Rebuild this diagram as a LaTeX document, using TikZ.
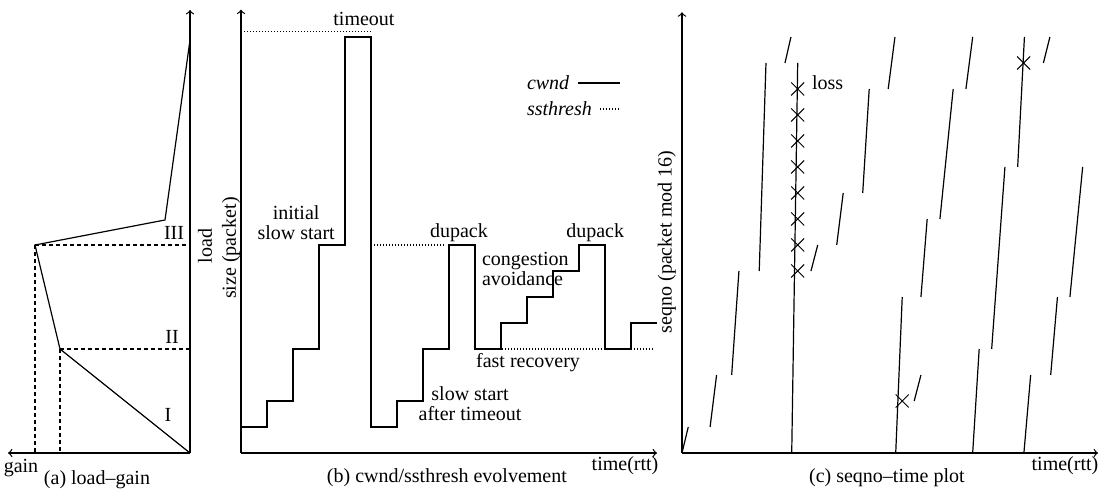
\documentclass[tikz,border=0pt]{standalone}
\usepackage{fontspec}
\setmainfont{Liberation Serif}
\usetikzlibrary{shapes.misc,positioning}

\begin{document}
\begin{tikzpicture}[x=0.5pt,y=-0.5pt,inner sep=0pt,outer sep=0pt,line width=0.6pt,
font=\fontsize{10}{10}\selectfont,
guide/.style={dash pattern=on 2pt off 1.5pt},
thresh/.style={dash pattern=on 0.5pt off 1pt},
lossx/.style={draw,cross out,minimum size=6.5pt,line width=0.5pt}]
\useasboundingbox (0,0) rectangle (1102,490);

% (a) load-gain
\coordinate (o) at (190,453);
\coordinate (loadtip) at (190,10);
\coordinate (gaintip) at (8,453);
\coordinate (p2) at (60,349);
\coordinate (p3) at (35,245);
\coordinate (knee) at (165,220);
\coordinate (ptop) at (190,40);
\draw[->] (o) -- (loadtip);
\draw[->] (o) -- (gaintip);
\draw (o) -- (p2) -- (p3) -- (knee) -- (ptop);
\draw[guide] (p2) -- (p2 -| o) (p3) -- (p3 -| o) (p3) -- (p3 |- o) (p2) -- (p2 |- o);
\node (lI) at (168,415) {I};
\node (lII) at (172,337) {II};
\node (lIII) at (174,233) {III};
\node[rotate=90] (load) at (205,246) {load};
\node (gain) at (21,468) {gain};
\node (capa) at (97,480) {(a) load--gain};

% (b) cwnd/ssthresh
\begin{scope}[shift={(241,453)},x=13pt,y=13pt]
\draw[->] (0,0) -- (16,0);
\draw[->] (0,0) -- (0,17.05);
\draw (0,1) -| (1,2) -| (2,4) -| (3,8) -| (4,16) -| (5,1) -| (6,2) -| (7,4) -| (8,8)
  -| (9,4) -| (10,5) -| (11,6) -| (12,7) -| (13,8) -| (14,4) -| (15,5) -- (16,5);
\draw[thresh] (0,16.2) -- (5,16.2) (5,8) -- (7.8,8) (9,4) -- (15.85,4);
\node[anchor=west,font=\fontsize{10}{10}\selectfont\itshape] (cw) at (11,14.23) {cwnd};
\node[anchor=west,font=\fontsize{10}{10}\selectfont\itshape] (ss) at (11,13.23) {ssthresh};
\draw (12.96,14.23) -- (14.58,14.23);
\draw[thresh] (13.81,13.23) -- (14.58,13.23);
\node (tmo) at (4.73,16.69) {timeout};
\node[align=center] (init) at (2.12,8.85) {initial\\slow start};
\node (dup1) at (8.38,8.46) {dupack};
\node (dup2) at (13.62,8.46) {dupack};
\node[align=left,anchor=west] (cong) at (9.27,7.06) {congestion\\avoidance};
\node (fr) at (11.04,3.46) {fast recovery};
\node[align=center] (ssat) at (8.81,1.88) {slow start\\after timeout};
\node (tb) at (14.77,-0.5) {time(rtt)};
\node[rotate=90] (size) at (-0.38,7.88) {size (packet)};
\node (capb) at (7.92,-0.96) {(b) cwnd/ssthresh evolvement};
\end{scope}

% (c) seqno-time
\begin{scope}[shift={(682,453)},x=13pt,y=13pt]
\draw[->] (0,0) -- (16,0);
\draw[->] (0,0) -- (0,16.95);
\draw (0,0) -- (0.24,1) (1.08,1) -- (1.33,3) (1.91,3) -- (2.19,7) (2.97,7) -- (3.23,15)
  (3.96,15) -- (4.19,16) (4.22,0) -- (4.45,15) (4.96,7) -- (5.22,8) (5.95,8) -- (6.2,10)
  (6.95,10) -- (7.2,14) (7.93,14) -- (8.19,16) (8.22,0) -- (8.47,6) (8.93,2) -- (9.19,3)
  (9.19,6) -- (9.43,9) (9.92,9) -- (10.43,14) (10.92,14) -- (11.18,16) (11.18,0) -- (11.43,4)
  (11.91,4) -- (12.42,11) (12.91,11) -- (13.17,16) (13.15,0) -- (13.41,3) (13.9,15) -- (14.15,16)
  (14.18,3) -- (14.44,6) (14.92,6) -- (15.41,11);
\node[lossx] (x7) at (4.45,7) {};
\node[lossx] (x8) at (4.45,8) {};
\node[lossx] (x9) at (4.45,9) {};
\node[lossx] (x10) at (4.45,10) {};
\node[lossx] (x11) at (4.45,11) {};
\node[lossx] (x12) at (4.45,12) {};
\node[lossx] (x13) at (4.45,13) {};
\node[lossx] (x14) at (4.45,14) {};
\node[lossx] (xa) at (8.47,2) {};
\node[lossx] (xb) at (13.14,15) {};
\node[anchor=west] (loss) at (5.0,14.23) {loss};
\node[rotate=90] (seqno) at (-0.58,8.12) {seqno (packet mod 16)};
\node (tc) at (14.73,-0.5) {time(rtt)};
\node (capc) at (7.88,-0.96) {(c) seqno--time plot};
\end{scope}
\end{tikzpicture}
\end{document}
